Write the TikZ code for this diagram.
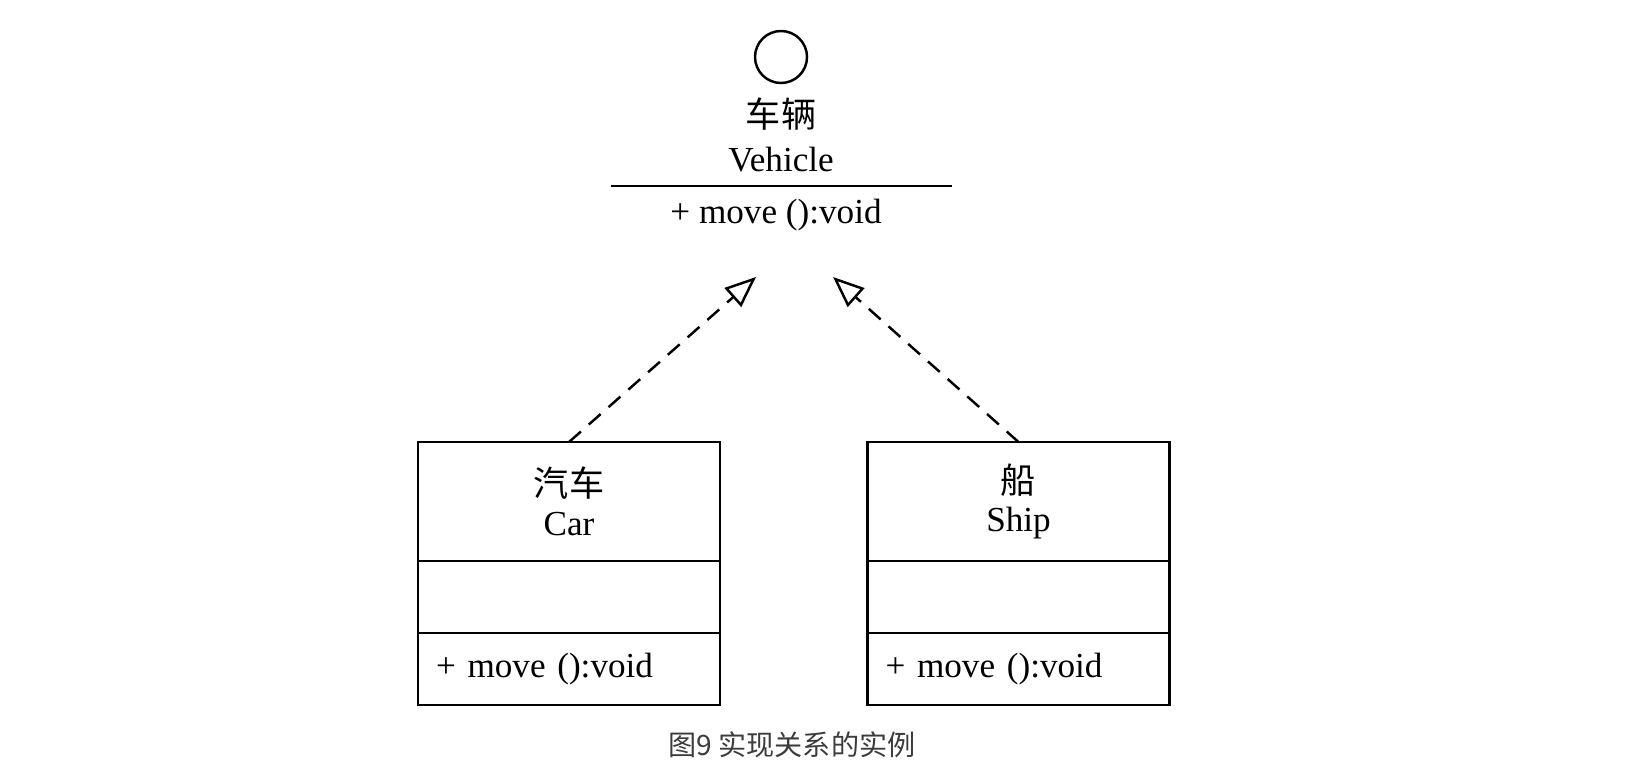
\documentclass[tikz,border=0pt]{standalone}
\usepackage{fontspec}
\setmainfont{Liberation Serif}
\newfontfamily\cjk{Noto Sans CJK SC}
\usetikzlibrary{arrows.meta}
\usetikzlibrary{positioning}

\definecolor{captiongray}{RGB}{60,60,60}

\begin{document}
\begin{tikzpicture}[
        cell/.style={draw,line width=0.7pt,outer sep=0pt,inner sep=0pt,
            minimum width=3.02cm,minimum height=0.72cm,
            font=\fontsize{10}{11}\selectfont},
        namecell/.style={cell,minimum height=1.19cm,align=center},
        opcell/.style={cell,text width=2.66cm,inner xsep=0.18cm,align=left},
        realize/.style={line width=0.7pt,dash pattern=on 4.5pt off 3pt,
            -{Triangle[open,length=0.31cm,width=0.25cm]}}
    ]
        \useasboundingbox (0,0) rectangle (16.38,7.76);

        % interface
        \node[draw,circle,line width=0.7pt,minimum size=0.52cm,inner sep=0pt]
        (vehicle) at (7.81,7.19) {};
        \node[align=center,font=\fontsize{10}{12.5}\selectfont]
        (vehiclename) at (7.81,6.41) {{\cjk 车辆}\\Vehicle};
        \draw[line width=0.7pt] (6.11,5.90) -- (9.52,5.90);
        \node[font=\fontsize{10}{11}\selectfont]
        (vehicleop) at (7.76,5.61) {+ move ():void};
        \coordinate (cartip) at (7.56,4.99);
        \coordinate (shiptip) at (8.33,4.99);

        % classes
        \node[namecell] (car) at (5.69,2.745) {{\cjk 汽车}\\Car};
        \node[cell,below=0pt of car] (carattr) {};
        \node[opcell,below=0pt of carattr] (carop) {+ move ():void};

        \node[namecell] (ship) at (10.185,2.745) {{\cjk 船}\\Ship};
        \node[cell,below=0pt of ship] (shipattr) {};
        \node[opcell,below=0pt of shipattr] (shipop) {+ move ():void};

        \draw[realize] (car.north) -- (cartip);
        \draw[realize] (ship.north) -- (shiptip);

        \node[text=captiongray,font=\cjk\fontsize{8}{10}\selectfont]
        (caption) at (7.92,0.31) {图9 实现关系的实例};
    \end{tikzpicture}
\end{document}
